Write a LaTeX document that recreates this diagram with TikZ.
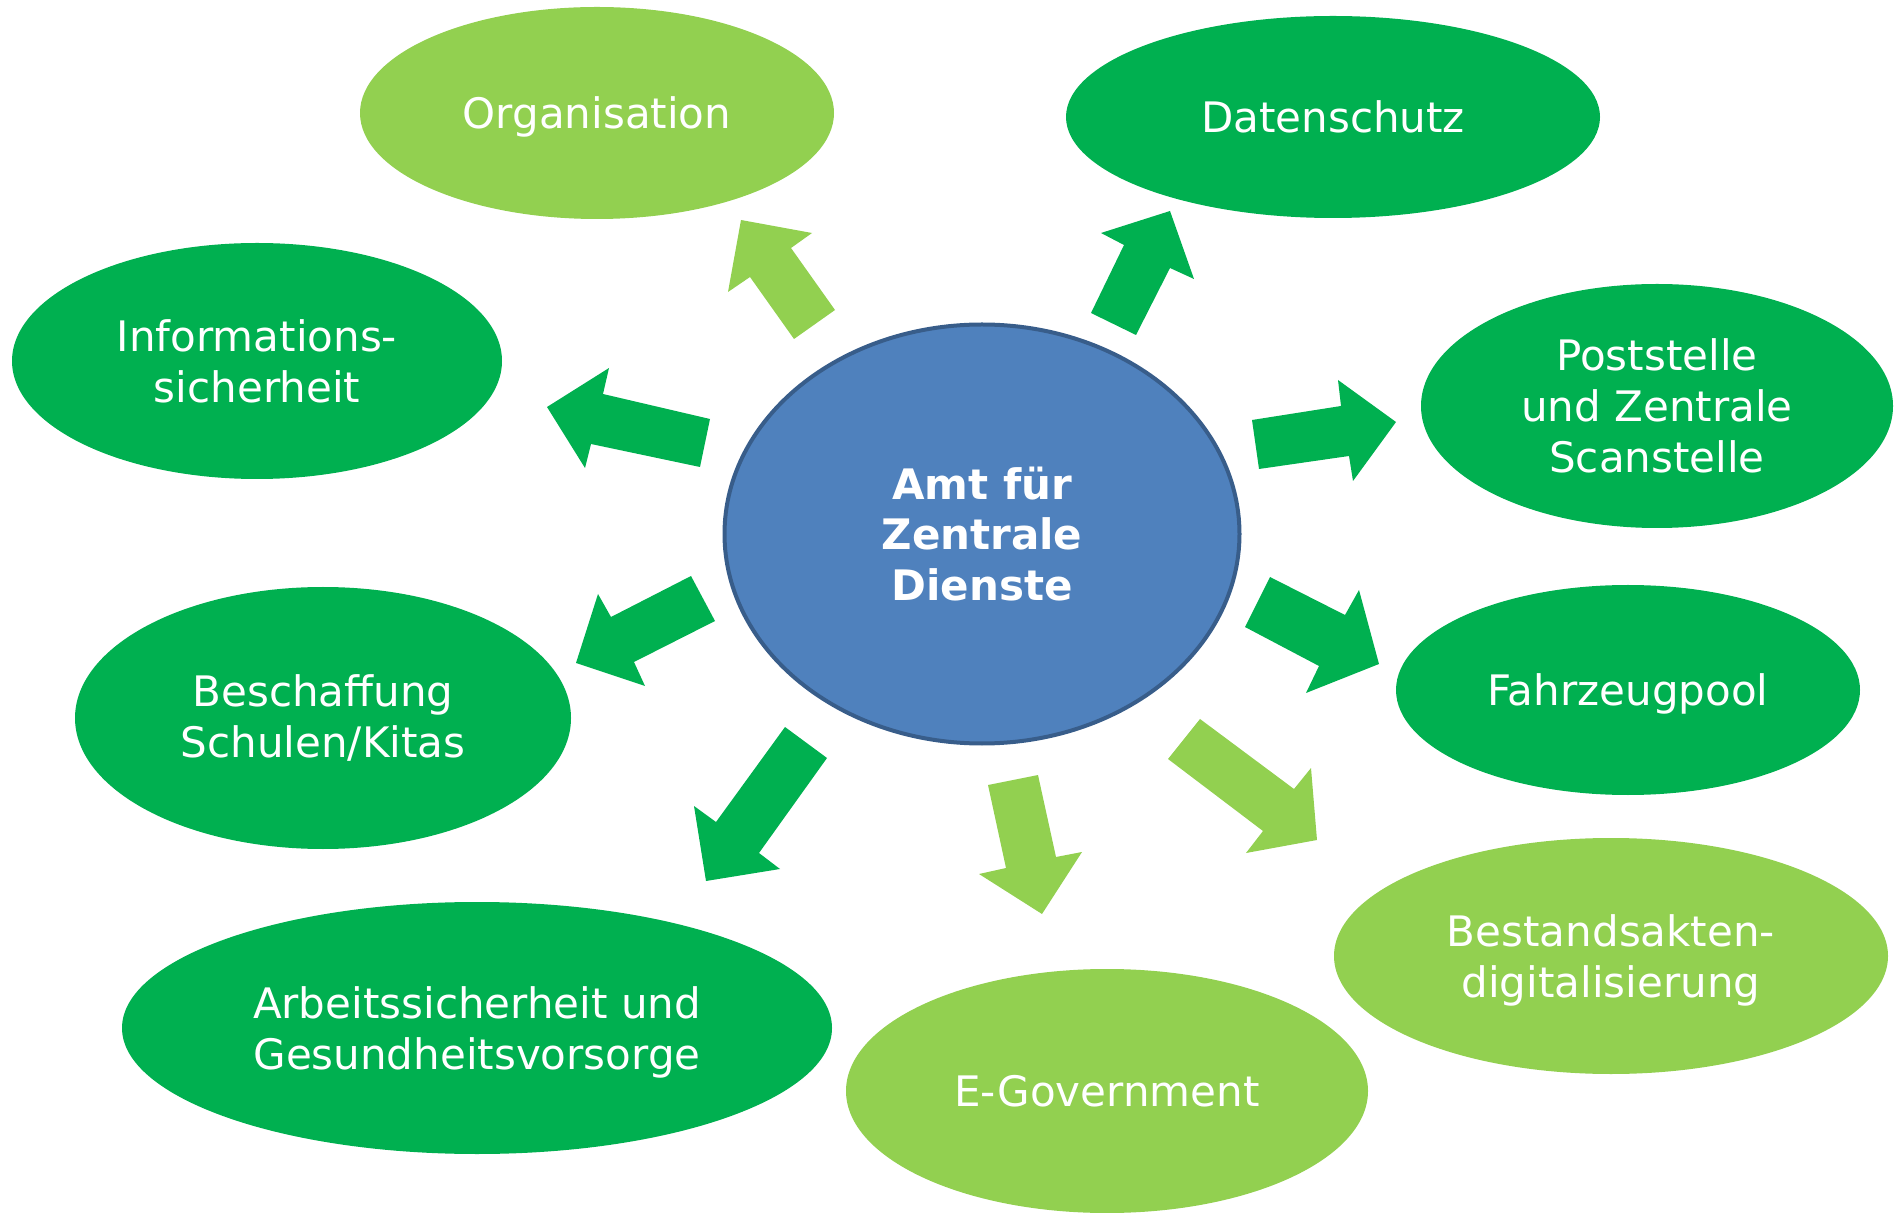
\documentclass[tikz,border=0pt]{standalone}
\usepackage{fontspec}
\setmainfont{DejaVu Sans}
\usetikzlibrary{shapes.geometric}
\definecolor{dgreen}{HTML}{00B050}
\definecolor{lgreen}{HTML}{92D050}
\definecolor{cblue}{HTML}{4F81BD}
\definecolor{cborder}{HTML}{385D8A}
\tikzset{
  topic/.style={ellipse, inner sep=0pt, text=white, align=center,
    font=\fontsize{21}{25.4}\selectfont},
  dtopic/.style={topic, fill=dgreen},
  ltopic/.style={topic, fill=lgreen},
  darrow/.style={fill=dgreen, draw=none},
  larrow/.style={fill=lgreen, draw=none},
}
\begin{document}
\begin{tikzpicture}[x=0.5pt,y=-0.5pt]
\useasboundingbox (0,0) rectangle (1896,1213);
% topic ellipses (sizes in pt = px/2)
\node[ltopic, text depth=0pt, minimum width=237pt, minimum height=106pt] (org) at (597,113) {Organisation};
\node[dtopic, minimum width=267pt, minimum height=101pt] (dat) at (1333,117) {Datenschutz};
\node[dtopic, minimum width=245pt, minimum height=118pt] (inf) at (257,361) {Informations-\\sicherheit};
\node[dtopic, minimum width=236pt, minimum height=122pt] (post) at (1657,406) {Poststelle\\und Zentrale\\Scanstelle};
\node[dtopic, minimum width=248pt, minimum height=131pt] (besch) at (323,718) {Beschaffung\\Schulen/Kitas};
\node[dtopic, text depth=0pt, minimum width=232pt, minimum height=105pt] (fahr) at (1628,690) {Fahrzeugpool};
\node[dtopic, text depth=0pt, minimum width=355pt, minimum height=126pt] (arb) at (477,1028) {Arbeitssicherheit und\\Gesundheitsvorsorge};
\node[ltopic, text depth=0pt, minimum width=277pt, minimum height=118pt] (best) at (1611,956) {Bestandsakten-\\digitalisierung};
\node[ltopic, minimum width=261pt, minimum height=122pt] (egov) at (1107,1091) {E-Government};
% centre
\node[ellipse, inner sep=0pt, fill=cblue, draw=cborder, line width=2pt,
  minimum width=257.5pt, minimum height=209.5pt, text=white, align=center,
  font=\fontsize{21}{25.4}\selectfont\bfseries] (amt) at (982,534) {Amt für\\Zentrale\\Dienste};
% block arrows
\fill[larrow] (794,339) -- (750,277) -- (728,292) -- (741,220) -- (812,233) -- (791,248) -- (835,310) -- cycle;
\fill[darrow] (1091,313) -- (1124,245) -- (1101,233) -- (1170,211) -- (1194,279) -- (1170,268) -- (1136,335) -- cycle;
\fill[darrow] (1252,420) -- (1341,406) -- (1338,380) -- (1396,422) -- (1353,481) -- (1349,456) -- (1259,469) -- cycle;
\fill[darrow] (1270,577) -- (1345,615) -- (1359,590) -- (1379,664) -- (1306,693) -- (1319,666) -- (1245,627) -- cycle;
\fill[larrow] (1200,719) -- (1294,789) -- (1311,768) -- (1317,840) -- (1246,853) -- (1263,831) -- (1168,759) -- cycle;
\fill[larrow] (1038,775) -- (1056,857) -- (1082,852) -- (1042,914) -- (979,874) -- (1006,868) -- (988,785) -- cycle;
\fill[darrow] (827,758) -- (759,853) -- (780,869) -- (706,881) -- (694,806) -- (716,822) -- (785,727) -- cycle;
\fill[darrow] (715,621) -- (634,662) -- (645,686) -- (576,663) -- (598,594) -- (611,617) -- (691,576) -- cycle;
\fill[darrow] (700,467) -- (591,444) -- (585,468) -- (547,407) -- (609,368) -- (603,394) -- (710,419) -- cycle;
\end{tikzpicture}
\end{document}
